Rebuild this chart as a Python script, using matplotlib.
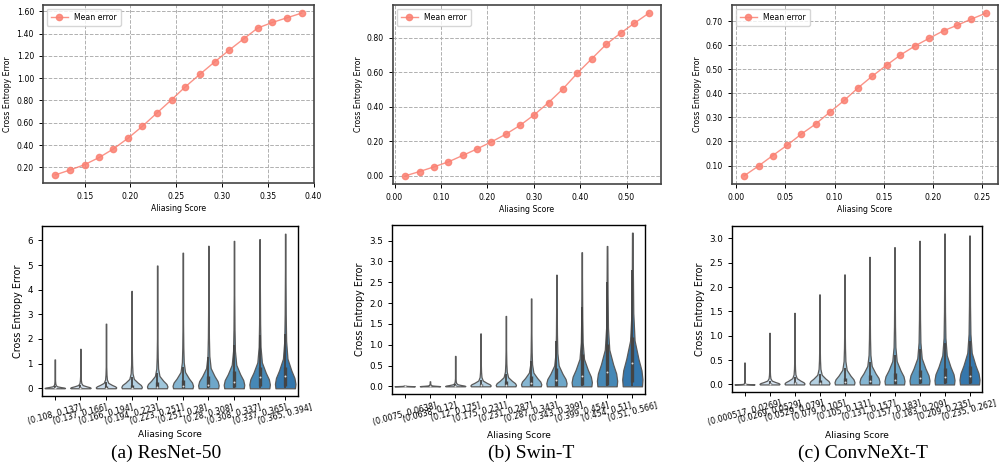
import colorsys
import numpy as np
import matplotlib
matplotlib.use("Agg")
import matplotlib.pyplot as plt
from matplotlib.ticker import MultipleLocator, FormatStrFormatter

# ---- top row: mean cross entropy error vs aliasing score ----
resnet_x = [0.118, 0.134, 0.150, 0.166, 0.181, 0.197, 0.213, 0.229, 0.245,
            0.260, 0.276, 0.292, 0.308, 0.324, 0.339, 0.355, 0.371, 0.387]
resnet_mean = [0.132, 0.176, 0.224, 0.289, 0.363, 0.459, 0.568, 0.688, 0.807,
               0.923, 1.036, 1.146, 1.253, 1.355, 1.450, 1.500, 1.542, 1.584]

swin_x = [0.023, 0.054, 0.085, 0.116, 0.147, 0.178, 0.209, 0.240, 0.271,
          0.301, 0.332, 0.363, 0.394, 0.425, 0.456, 0.487, 0.517, 0.548]
swin_mean = [0.000, 0.025, 0.052, 0.081, 0.118, 0.156, 0.197, 0.241, 0.293,
             0.353, 0.424, 0.503, 0.594, 0.677, 0.760, 0.825, 0.883, 0.941]

convnext_x = [0.008, 0.023, 0.037, 0.052, 0.066, 0.081, 0.095, 0.110, 0.124,
              0.138, 0.153, 0.167, 0.182, 0.196, 0.211, 0.225, 0.239, 0.254]
convnext_mean = [0.057, 0.099, 0.141, 0.185, 0.230, 0.273, 0.321, 0.371, 0.423,
                 0.470, 0.517, 0.559, 0.597, 0.628, 0.660, 0.683, 0.708, 0.733]

# ---- bottom row: violins per aliasing-score bin ----
resnet_bins = ["(0.108, 0.137]", "(0.137, 0.166]", "(0.166, 0.194]", "(0.194, 0.223]",
               "(0.223, 0.251]", "(0.251, 0.28]", "(0.28, 0.308]", "(0.308, 0.337]",
               "(0.337, 0.365]", "(0.365, 0.394]"]
resnet_top = [1.17, 1.60, 2.62, 3.95, 4.98, 5.50, 5.78, 5.98, 6.05, 6.27]
resnet_body = [0.08, 0.13, 0.22, 0.38, 0.50, 0.66, 0.82, 0.95, 1.05, 1.20]
resnet_q1 = [0.0, 0.0, 0.0, 0.0, 0.01, 0.02, 0.04, 0.06, 0.08, 0.10]
resnet_med = [0.01, 0.01, 0.02, 0.03, 0.06, 0.10, 0.15, 0.25, 0.45, 0.50]
resnet_q3 = [0.03, 0.05, 0.08, 0.15, 0.25, 0.35, 0.50, 0.70, 0.85, 0.85]
resnet_whisk = [0.10, 0.15, 0.25, 0.45, 0.60, 0.85, 1.25, 1.77, 2.15, 2.20]

swin_bins = ["(0.0075, 0.0638]", "(0.0638, 0.12]", "(0.12, 0.175]", "(0.175, 0.231]",
             "(0.231, 0.287]", "(0.287, 0.343]", "(0.343, 0.399]", "(0.399, 0.454]",
             "(0.454, 0.51]", "(0.51, 0.566]"]
swin_top = [0.02, 0.12, 0.73, 1.27, 1.69, 2.11, 2.68, 3.22, 3.37, 3.69]
swin_body = [0.01, 0.02, 0.05, 0.14, 0.22, 0.33, 0.50, 0.66, 0.88, 1.10]
swin_q1 = [0.0, 0.0, 0.0, 0.0, 0.0, 0.0, 0.01, 0.02, 0.04, 0.10]
swin_med = [0.0, 0.0, 0.01, 0.02, 0.04, 0.08, 0.15, 0.25, 0.35, 0.55]
swin_q3 = [0.005, 0.01, 0.02, 0.06, 0.12, 0.25, 0.45, 0.78, 1.02, 1.18]
swin_whisk = [0.01, 0.03, 0.05, 0.15, 0.30, 0.60, 1.10, 1.90, 2.50, 2.80]

convnext_bins = ["(0.000517, 0.0269]", "(0.0269, 0.0529]", "(0.0529, 0.079]", "(0.079, 0.105]",
                 "(0.105, 0.131]", "(0.131, 0.157]", "(0.157, 0.183]", "(0.183, 0.209]",
                 "(0.209, 0.235]", "(0.235, 0.262]"]
convnext_top = [0.45, 1.06, 1.47, 1.85, 2.26, 2.62, 2.82, 2.95, 3.10, 3.06]
convnext_body = [0.01, 0.08, 0.13, 0.20, 0.30, 0.38, 0.48, 0.54, 0.60, 0.65]
convnext_q1 = [0.0, 0.0, 0.0, 0.0, 0.0, 0.01, 0.01, 0.02, 0.02, 0.03]
convnext_med = [0.005, 0.01, 0.02, 0.03, 0.05, 0.07, 0.10, 0.13, 0.15, 0.17]
convnext_q3 = [0.01, 0.03, 0.06, 0.09, 0.13, 0.19, 0.24, 0.29, 0.34, 0.37]
convnext_whisk = [0.02, 0.08, 0.15, 0.22, 0.33, 0.47, 0.60, 0.72, 0.85, 0.90]

captions = ["(a) ResNet-50", "(b) Swin-T", "(c) ConvNeXt-T"]

# generic violin outline (height in units of the body height -> relative width)
PROFILE_U = [0, 0.15, 0.35, 0.6, 1.0, 1.6, 2.5, 4.0]
PROFILE_W = [0.95, 1.0, 0.9, 0.6, 0.22, 0.09, 0.05, 0.025]

LINE_C = "#fa8072"
BOX_C = "#444444"

fig = plt.figure(figsize=(9.99, 4.71), dpi=100)


def px_axes(l, r, t, b):
    W, H = 999, 471
    return fig.add_axes([l / W, 1 - b / H, (r - l) / W, (b - t) / H])


def soften(c, sat=0.82):
    h, l, s = colorsys.rgb_to_hls(*c[:3])
    return colorsys.hls_to_rgb(h, l, s * sat)


def mean_plot(ax, x, y, xstep, ystep):
    ax.plot(x, y, "-o", color=LINE_C, lw=1, ms=4.5, alpha=0.85, label="Mean error")
    ax.grid(True, ls="--", color="#b0b0b0", lw=0.7)
    ax.xaxis.set_major_locator(MultipleLocator(xstep))
    ax.yaxis.set_major_locator(MultipleLocator(ystep))
    ax.xaxis.set_major_formatter(FormatStrFormatter("%.2f"))
    ax.yaxis.set_major_formatter(FormatStrFormatter("%.2f"))
    ax.tick_params(labelsize=5.6, length=3, width=0.7)
    ax.set_xlabel("Aliasing Score", fontsize=5.6, labelpad=2)
    ax.set_ylabel("Cross Entropy Error", fontsize=5.6, labelpad=3)
    for s in ax.spines.values():
        s.set_linewidth(1.2)
        s.set_color("#444444")
    ax.legend(loc="upper left", fontsize=5.6, handlelength=2.2, borderpad=0.5)


def violin_plot(ax, bins, top, body, q1, med, q3, whisk):
    n = len(bins)
    pos = np.arange(n)
    cmap = plt.get_cmap("Blues")
    colors = [soften(cmap(v)) for v in np.linspace(0.12, 0.72, n)]
    stats = []
    for i in range(n):
        ys = np.linspace(0, top[i], 400)
        vals = np.interp(ys / body[i], PROFILE_U, PROFILE_W)
        stats.append(dict(coords=ys, vals=vals, mean=med[i], median=med[i],
                          min=0.0, max=top[i]))
    parts = ax.violin(stats, positions=pos, widths=0.8, showmeans=False,
                      showextrema=False, showmedians=False)
    for b, c in zip(parts["bodies"], colors):
        b.set_facecolor(c)
        b.set_edgecolor("#5a5a5a")
        b.set_linewidth(0.9)
        b.set_alpha(1)
    ax.vlines(pos, 0, whisk, color=BOX_C, lw=1.3, zorder=3)
    ax.vlines(pos, q1, q3, color=BOX_C, lw=2.4, zorder=3)
    ax.scatter(pos, med, s=2, color="#dddddd", zorder=4, linewidths=0)
    ax.set_xlim(-0.5, n - 0.5)
    ax.set_xticks(pos)
    ax.set_xticklabels(bins, rotation=15, fontsize=5.7)
    ax.tick_params(axis="y", labelsize=6.3, length=3, width=0.7)
    ax.tick_params(axis="x", length=3, width=0.7, pad=2)
    ax.set_xlabel("Aliasing Score", fontsize=6.5, labelpad=3)
    ax.set_ylabel("Cross Entropy Error", fontsize=6.9, labelpad=3)
    for s in ax.spines.values():
        s.set_linewidth(1.0)


a1 = px_axes(43, 314, 5, 183)
mean_plot(a1, resnet_x, resnet_mean, 0.05, 0.2)
a2 = px_axes(393, 661, 5, 184)
mean_plot(a2, swin_x, swin_mean, 0.1, 0.2)
a3 = px_axes(732, 998, 5, 184)
mean_plot(a3, convnext_x, convnext_mean, 0.05, 0.1)

b1 = px_axes(42, 298, 226, 396)
violin_plot(b1, resnet_bins, resnet_top, resnet_body, resnet_q1, resnet_med, resnet_q3, resnet_whisk)
b1.yaxis.set_major_locator(MultipleLocator(1))
b2 = px_axes(392, 645, 225, 394)
violin_plot(b2, swin_bins, swin_top, swin_body, swin_q1, swin_med, swin_q3, swin_whisk)
b2.yaxis.set_major_locator(MultipleLocator(0.5))
b3 = px_axes(732, 982, 226, 392)
violin_plot(b3, convnext_bins, convnext_top, convnext_body, convnext_q1, convnext_med, convnext_q3, convnext_whisk)
b3.yaxis.set_major_locator(MultipleLocator(0.5))

for xc, cap in zip([166, 531, 863], captions):
    fig.text(xc / 999, 1 - 453 / 471, cap, ha="center", va="center",
             fontsize=14, family=["Liberation Serif", "DejaVu Serif"])

fig.savefig("out.png", dpi=100)
